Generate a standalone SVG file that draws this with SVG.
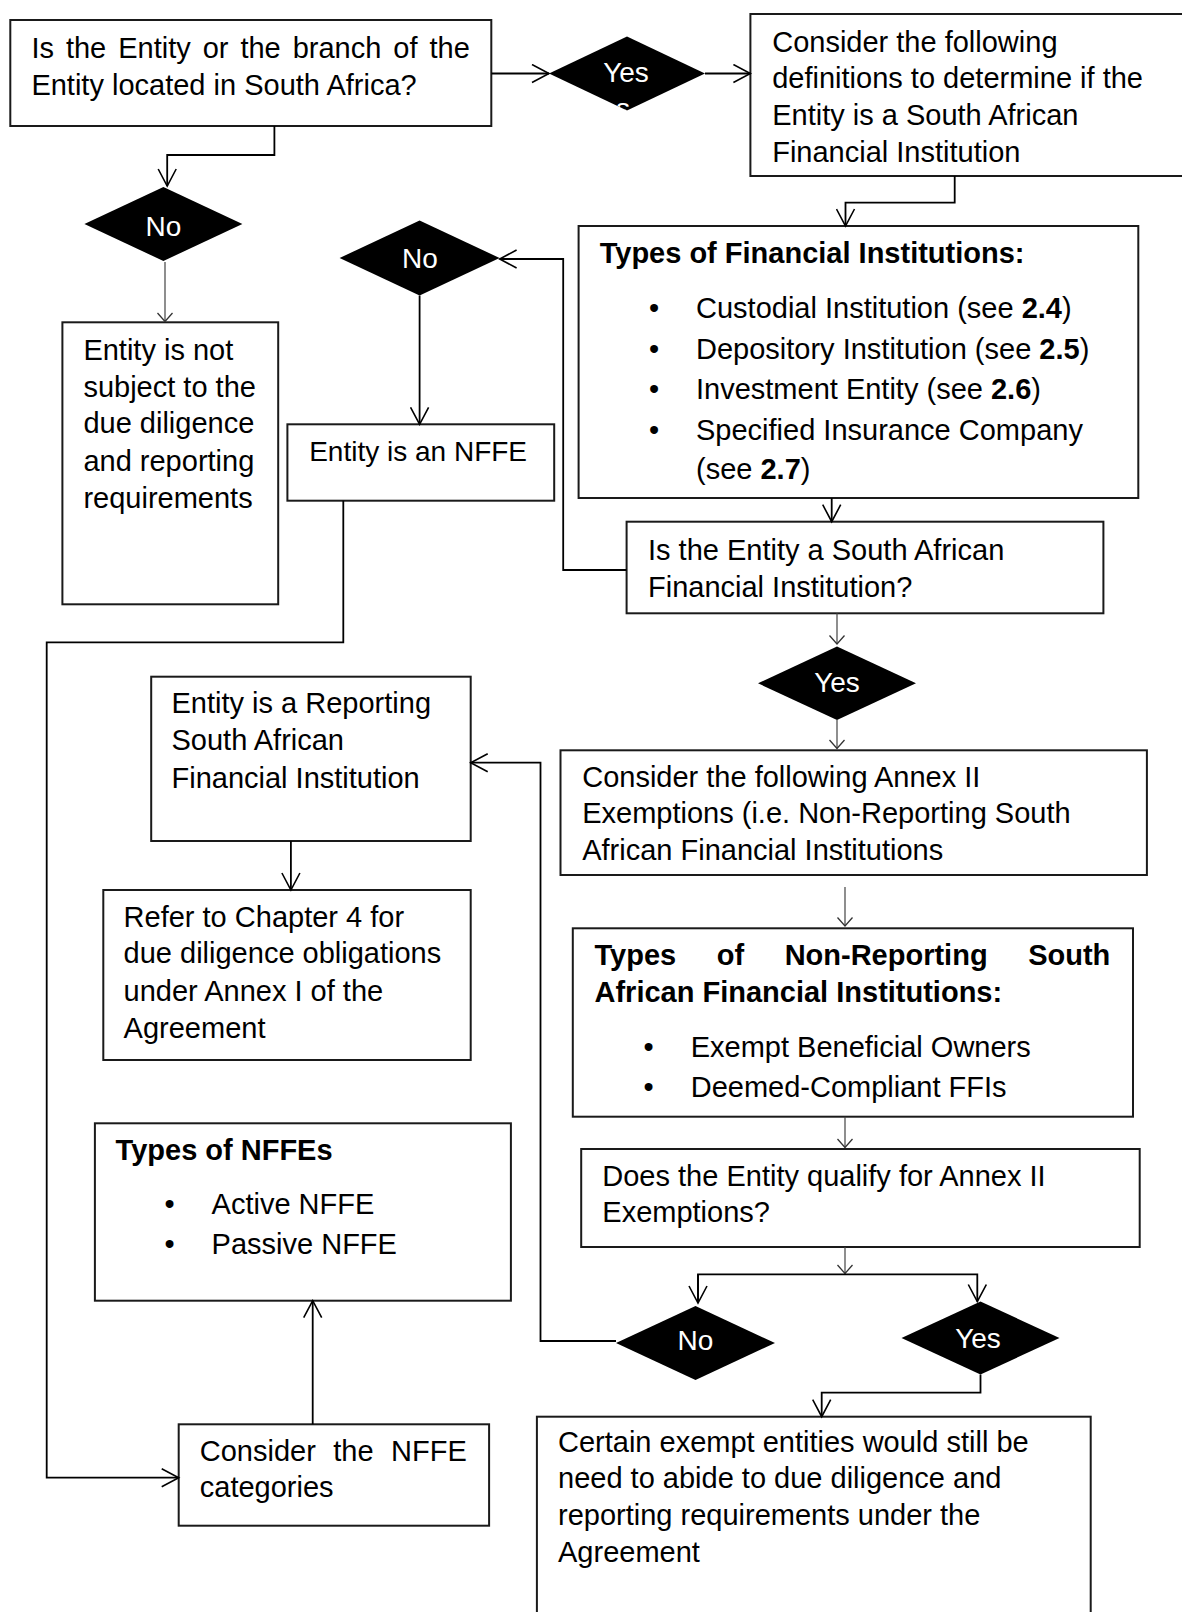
<svg xmlns="http://www.w3.org/2000/svg" width="1182" height="1612" viewBox="0 0 1182 1612">
<style>
.box{fill:#fff;stroke:#1a1a1a;stroke-width:2}
.dia{fill:#000;stroke:none}
.t{font-family:"Liberation Sans",Arial,sans-serif;font-size:29px;fill:#000}
.b{font-weight:bold}
.dt{font-family:"Liberation Sans",Arial,sans-serif;font-size:28px;fill:#fff;text-anchor:middle}
.c{fill:none;stroke:#000;stroke-width:1.8}
.cs{fill:none;stroke:#444;stroke-width:1.2}
.bul{text-anchor:middle}
</style>
<defs>
<marker id="arrL" markerUnits="userSpaceOnUse" markerWidth="20" markerHeight="20" viewBox="0 0 20 20" refX="18" refY="10" orient="auto"><path d="M1,1 L18,10 L1,19" fill="none" stroke="#000" stroke-width="1.6"/></marker>
<marker id="arrS" markerUnits="userSpaceOnUse" markerWidth="12" markerHeight="16" viewBox="0 0 12 16" refX="9.5" refY="8" orient="auto"><path d="M1,0.5 L9.5,8 L1,15.5" fill="none" stroke="#333" stroke-width="1.3"/></marker>
<clipPath id="clipYes1"><polygon points="549,73.5 627,36.5 705,73.5 627,110.5"/></clipPath>
</defs>
<rect width="1182" height="1612" fill="#fff"/>

<g id="nodes">
<g id="q-located">
<rect class="box" x="10.3" y="20" width="481" height="106"/>
<text class="t" x="31.4" y="58.3" word-spacing="3.9">Is the Entity or the branch of the</text>
<text class="t" x="31.4" y="95">Entity located in South Africa?</text>
</g>
<g id="d-yes1">
<polygon class="dia" points="549,73.5 627,36.5 705,73.5 627,110.5"/>
<text class="dt" x="626" y="81.7">Yes</text>
<g clip-path="url(#clipYes1)"><text class="dt" x="623" y="118">s</text></g>
</g>
<g id="consider-defs">
<rect class="box" x="750.4" y="14" width="450" height="162"/>
<text class="t" x="772.2" y="51.7">Consider the following</text>
<text class="t" x="772.2" y="88.3">definitions to determine if the</text>
<text class="t" x="772.2" y="125">Entity is a South African</text>
<text class="t" x="772.2" y="161.7">Financial Institution</text>
</g>
<g id="d-no1">
<polygon class="dia" points="84.4,224 163.4,187 242.4,224 163.4,261"/>
<text class="dt" x="163.4" y="236">No</text>
</g>
<g id="not-subject">
<rect class="box" x="62.4" y="322.3" width="215.8" height="282"/>
<text class="t" x="83.4" y="360">Entity is not</text>
<text class="t" x="83.4" y="396.7">subject to the</text>
<text class="t" x="83.4" y="433.3">due diligence</text>
<text class="t" x="83.4" y="470.7">and reporting</text>
<text class="t" x="83.4" y="508.3">requirements</text>
</g>
<g id="types-fi">
<rect class="box" x="578.6" y="226" width="559.7" height="272"/>
<text class="t b" x="599.7" y="263.3">Types of Financial Institutions:</text>
<text class="t bul" x="654" y="318.3">•</text>
<text class="t" x="696" y="318.3">Custodial Institution (see <tspan class="b">2.4</tspan>)</text>
<text class="t bul" x="654" y="359.3">•</text>
<text class="t" x="696" y="359.3">Depository Institution (see <tspan class="b">2.5</tspan>)</text>
<text class="t bul" x="654" y="399.3">•</text>
<text class="t" x="696" y="399.3">Investment Entity (see <tspan class="b">2.6</tspan>)</text>
<text class="t bul" x="654" y="440">•</text>
<text class="t" x="696" y="440">Specified Insurance Company</text>
<text class="t" x="696" y="479.3">(see <tspan class="b">2.7</tspan>)</text>
</g>
<g id="d-no2">
<polygon class="dia" points="339.6,258 419.6,220.5 499.6,258 419.6,295.5"/>
<text class="dt" x="420" y="268">No</text>
</g>
<g id="nffe">
<rect class="box" x="287.4" y="424.3" width="266.8" height="76.4"/>
<text class="t" x="309.2" y="460.7" style="font-size:28px">Entity is an NFFE</text>
</g>
<g id="q-safi">
<rect class="box" x="626.6" y="521.7" width="476.8" height="91.6"/>
<text class="t" x="648" y="560">Is the Entity a South African</text>
<text class="t" x="648" y="596.7">Financial Institution?</text>
</g>
<g id="d-yes2">
<polygon class="dia" points="758,683.3 837,646.6 916,683.3 837,720"/>
<text class="dt" x="837" y="691.7">Yes</text>
</g>
<g id="reporting-fi">
<rect class="box" x="151.2" y="676.7" width="319.5" height="164.3"/>
<text class="t" x="171.5" y="713.3">Entity is a Reporting</text>
<text class="t" x="171.5" y="750">South African</text>
<text class="t" x="171.5" y="787.7">Financial Institution</text>
</g>
<g id="consider-annex">
<rect class="box" x="560.5" y="750.3" width="586.4" height="124.7"/>
<text class="t" x="582.2" y="786.7">Consider the following Annex II</text>
<text class="t" x="582.2" y="823.3">Exemptions (i.e. Non-Reporting South</text>
<text class="t" x="582.2" y="860">African Financial Institutions</text>
</g>
<g id="chapter4">
<rect class="box" x="103.3" y="890" width="367.4" height="170"/>
<text class="t" x="123.6" y="926.7">Refer to Chapter 4 for</text>
<text class="t" x="123.6" y="963.3">due diligence obligations</text>
<text class="t" x="123.6" y="1000.7">under Annex I of the</text>
<text class="t" x="123.6" y="1037.7">Agreement</text>
</g>
<g id="types-nonrep">
<rect class="box" x="572.8" y="928.3" width="560.2" height="188.4"/>
<text class="t b" x="594.5" y="965" word-spacing="32.5">Types of Non-Reporting South</text>
<text class="t b" x="594.5" y="1001.7">African Financial Institutions:</text>
<text class="t bul" x="648.5" y="1057.3">•</text>
<text class="t" x="690.7" y="1057.3">Exempt Beneficial Owners</text>
<text class="t bul" x="648.5" y="1096.7">•</text>
<text class="t" x="690.7" y="1096.7">Deemed-Compliant FFIs</text>
</g>
<g id="types-nffe">
<rect class="box" x="94.9" y="1123.3" width="416" height="177.4"/>
<text class="t b" x="115.6" y="1160">Types of NFFEs</text>
<text class="t bul" x="169.5" y="1214">•</text>
<text class="t" x="211.6" y="1214">Active NFFE</text>
<text class="t bul" x="169.5" y="1254.3">•</text>
<text class="t" x="211.6" y="1254.3">Passive NFFE</text>
</g>
<g id="q-annex">
<rect class="box" x="581.2" y="1149" width="558.5" height="98"/>
<text class="t" x="602.3" y="1186">Does the Entity qualify for Annex II</text>
<text class="t" x="602.3" y="1221.7">Exemptions?</text>
</g>
<g id="d-no3">
<polygon class="dia" points="616,1343 695.5,1306 775,1343 695.5,1380"/>
<text class="dt" x="695.5" y="1350">No</text>
</g>
<g id="d-yes3">
<polygon class="dia" points="901.5,1338 980.5,1301.5 1059.5,1338 980.5,1374.5"/>
<text class="dt" x="978" y="1348">Yes</text>
</g>
<g id="certain-exempt">
<rect class="box" x="536.9" y="1416.7" width="553.8" height="220"/>
<text class="t" x="558" y="1451.7">Certain exempt entities would still be</text>
<text class="t" x="558" y="1488.3">need to abide to due diligence and</text>
<text class="t" x="558" y="1525">reporting requirements under the</text>
<text class="t" x="558" y="1561.7">Agreement</text>
</g>
<g id="consider-nffe">
<rect class="box" x="178.7" y="1424.3" width="310.4" height="101.4"/>
<text class="t" x="199.8" y="1460.7" word-spacing="9.4">Consider the NFFE</text>
<text class="t" x="199.8" y="1496.7">categories</text>
</g>
</g>

<g id="connectors">
<path class="c" d="M491.4,73.5 H549" marker-end="url(#arrL)"/>
<path class="c" d="M705,73.5 H750.4" marker-end="url(#arrL)"/>
<path class="c" d="M954.7,176 V202.7 H845.5 V226" marker-end="url(#arrL)"/>
<path class="c" d="M274.4,126 V155 H167.2 V186" marker-end="url(#arrL)"/>
<path class="cs" d="M165,262 V321.5" marker-end="url(#arrS)"/>
<path class="c" d="M831.7,498 V521.7" marker-end="url(#arrL)"/>
<path class="c" d="M626.6,570 H563.2 V259 H499.6" marker-end="url(#arrL)"/>
<path class="c" d="M419.6,295.5 V424.3" marker-end="url(#arrL)"/>
<path class="c" d="M343.3,500.7 V642.3 H46.7 V1477.7 H178.7" marker-end="url(#arrL)"/>
<path class="cs" d="M837,613.3 V644" marker-end="url(#arrS)"/>
<path class="cs" d="M837,720 V748.5" marker-end="url(#arrS)"/>
<path class="cs" d="M845,887 V926" marker-end="url(#arrS)"/>
<path class="c" d="M290.9,841 V890" marker-end="url(#arrL)"/>
<path class="cs" d="M845,1116.7 V1147.5" marker-end="url(#arrS)"/>
<path class="cs" d="M845,1247 V1273.5" marker-end="url(#arrS)"/>
<path class="c" d="M698,1303 V1274.3 H977.3 V1301.5" marker-end="url(#arrL)"/>
<path class="c" d="M698,1274.3 V1303" marker-end="url(#arrL)"/>
<path class="c" d="M616,1341 H540.5 V762.7 H470.7" marker-end="url(#arrL)"/>
<path class="c" d="M980.5,1374.5 V1392.7 H821.7 V1416.7" marker-end="url(#arrL)"/>
<path class="c" d="M312.7,1424.3 V1300.7" marker-end="url(#arrL)"/>
</g>
</svg>
